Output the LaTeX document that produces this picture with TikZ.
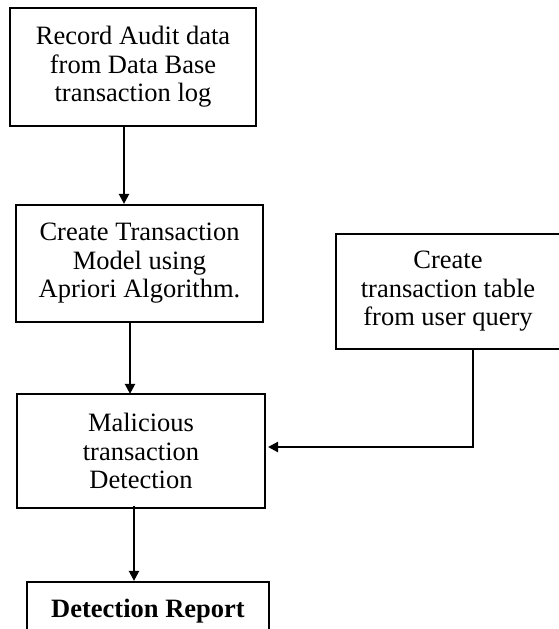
\documentclass[tikz,border=0pt]{standalone}
\usepackage{fontspec}
\setmainfont{Liberation Serif}
\usetikzlibrary{arrows.meta}
\begin{document}
\begin{tikzpicture}[x=1pt,y=-1pt,
  box/.style={draw,line width=2.2pt,rectangle,align=center,inner sep=0pt,
    font=\fontsize{26.5}{28.5}\selectfont},
  arr/.style={line width=2.2pt,-{Triangle[length=10pt,width=10pt]}}]
\useasboundingbox (0,0) rectangle (559,629);
\clip (0,0) rectangle (559,629);
\node[box,minimum width=246pt,minimum height=118pt] (b1) at (133,67)
  {Record Audit data\\from Data Base\\transaction log};
\node[box,minimum width=247pt,minimum height=117pt] (b2) at (139.5,263.5)
  {Create Transaction\\Model using\\Apriori Algorithm.};
\node[box,minimum width=224pt,minimum height=115pt] (b3) at (448,291.5)
  {Create\\transaction table\\from user query};
\node[box,minimum width=248pt,minimum height=114pt] (b4) at (141,451)
  {Malicious\\transaction\\Detection};
\node[box,minimum width=242pt,minimum height=58pt,font=\fontsize{26.5}{28.5}\selectfont\bfseries] (b5) at (148,611)
  {Detection Report};
\coordinate (c1) at (124,0);
\coordinate (c2) at (130,0);
\coordinate (c3) at (134,0);
\coordinate (c4) at (473,447);
\coordinate (c5) at (268,447);
\draw[arr] (b1.south -| c1) -- (b2.north -| c1);
\draw[arr] (b2.south -| c2) -- ([yshift=-1pt]b4.north -| c2);
\draw[arr] ([yshift=3pt]b4.south -| c3) -- (b5.north -| c3);
\draw[arr] (b3.south -| c4) -- (c4) -- (c5);
\end{tikzpicture}
\end{document}
